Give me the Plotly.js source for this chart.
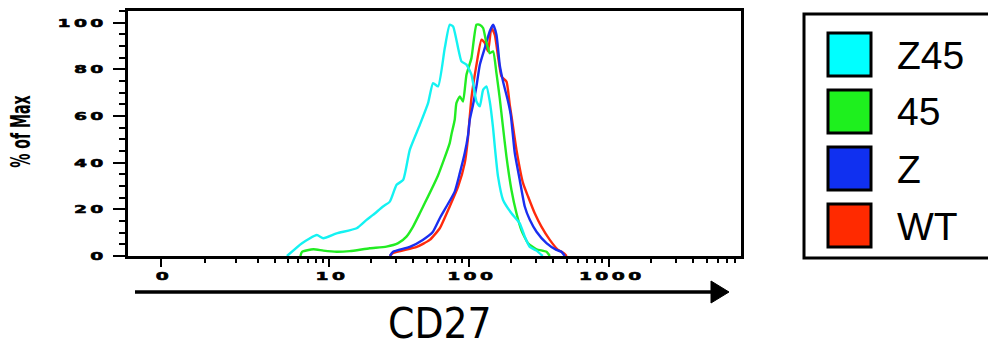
<!DOCTYPE html>
<html>
<head>
<meta charset="utf-8">
<script src="https://cdn.plot.ly/plotly-3.0.1.min.js"></script>
<style>
  html, body { margin: 0; padding: 0; background: #ffffff; }
  #chart { width: 988px; height: 347px; }
</style>
</head>
<body>
<div id="chart"></div>
<script>
// ---------------- DATA ----------------
const seriesNames  = ["Z45", "45", "Z", "WT"];
const lineColors   = ["#14f2f2", "#22ec22", "#1a2ef0", "#ff2a0c"];
const swatchColors = ["#00ffff", "#1ef01e", "#1030f0", "#ff2a00"];

// CD27 fluorescence values and % of Max, per sample
const z45_cd27 = [4.95, 6.38, 8.17, 9.10, 11.35, 15.8, 18.6, 20.7, 24.4, 27.3, 30.5, 34.0, 37.9, 44.7, 51.2, 55.6, 60.4, 67.4, 73.1, 77.3, 88.7, 96.3, 104.5, 113.5, 119.9, 126.6, 133.8, 141.3, 149.2, 153.5, 161.9, 175.8, 201.8, 231.3, 251.2, 272.9, 304.8, 338];
const z45_pct  = [0, 5.5, 9.0, 7.6, 9.7, 11.9, 15.5, 17.6, 21.2, 23.3, 30.5, 32.6, 45.5, 56.2, 65.5, 74.1, 72.7, 89.1, 99.1, 98.4, 83.4, 82.0, 77.7, 66.2, 64.1, 71.2, 72.7, 66.2, 54.8, 46.9, 34.0, 24.0, 18.3, 14.0, 8.3, 3.9, 2.3, 0];

const s45_cd27 = [6.21, 6.38, 7.72, 9.10, 11.35, 14.1, 19.6, 25.8, 31.3, 35.9, 40.0, 44.7, 47.2, 60.1, 73.1, 75.1, 79.4, 81.6, 86.3, 91.0, 96.3, 104.5, 113.5, 119.9, 126.6, 132.2, 137.3, 141.3, 149.2, 157.7, 166.4, 174.9, 185.9, 201.8, 219.2, 237.8, 265.2, 304.8, 359.0, 379.3];
const s45_pct  = [0, 1.8, 2.9, 2.3, 1.8, 2.1, 3.3, 4.0, 5.5, 8.3, 12.6, 18.3, 21.2, 34.3, 48.4, 51.9, 58.4, 65.5, 68.4, 66.2, 77.7, 84.8, 99.1, 99.1, 97.7, 92.7, 89.1, 86.9, 87.7, 78.4, 67.7, 56.2, 42.6, 28.3, 18.3, 11.0, 5.5, 2.9, 1.8, 0];

const z_cd27 = [27.3, 28.8, 37.9, 46.9, 55.3, 62.1, 69.3, 79.4, 86.3, 93.6, 98.9, 101.7, 107.3, 113.5, 119.9, 130.1, 141.3, 149.2, 157.7, 166.4, 175.8, 190.9, 199.5, 213.1, 231.3, 251.2, 272.9, 304.8, 359.0, 422.5, 458.7, 485.3];
const z_pct  = [0, 1.8, 3.9, 6.9, 10.3, 16.2, 21.2, 27.6, 35.5, 44.1, 51.9, 58.4, 64.8, 72.7, 81.9, 89.1, 96.3, 99.1, 94.8, 81.9, 74.8, 66.2, 60.5, 44.2, 32.6, 21.2, 15.5, 10.4, 5.5, 2.6, 1.8, 0];

const wt_cd27 = [27.3, 28.8, 42.5, 52.6, 62.1, 73.1, 83.9, 93.6, 98.4, 104.5, 113.5, 123.3, 130.1, 137.3, 145.2, 153.5, 161.9, 171.3, 185.9, 196.3, 202.8, 219.2, 244.2, 265.2, 296.0, 330.4, 379.3, 434.5, 472.3, 501.2];
const wt_pct  = [0, 1.3, 3.9, 6.9, 11.9, 21.2, 29.7, 39.8, 49.8, 67.7, 81.9, 92.7, 91.3, 87.7, 97.7, 94.8, 85.5, 76.9, 74.8, 64.8, 59.2, 45.5, 31.2, 25.5, 18.3, 12.6, 6.9, 2.6, 1.4, 0];

const xMajorTicks = [0, 10, 100, 1000];
const xTickLabels = ["0", "10", "100", "1000"];
const xMinorTicks = [1,2,3,4,5,6,7,8,9, 20,30,40,50,60,70,80,90, 200,300,400,500,600,700,800,900, 2000,3000,4000,5000,6000,7000,8000,9000];

// --------------- SCALE (biexponential-like display, arcsinh) ---------------
const C = 1.267;
function T(v) { return Math.asinh(v / C) / Math.LN10; }

// --------------- LAYOUT GEOMETRY (pixels) ---------------
const W = 988, H = 347;
const PL = 128, PR = 741, PT = 11, PB = 256;
const pw = PR - PL, ph = PB - PT;
function fx(px) { return (px - PL) / pw; }
function fy(py) { return (PB - py) / ph; }

const xs = [z45_cd27, s45_cd27, z_cd27, wt_cd27];
const ys = [z45_pct, s45_pct, z_pct, wt_pct];

// draw order: WT, Z, 45, Z45
const order = [3, 2, 1, 0];
const traces = order.map(i => ({
  type: "scatter",
  mode: "lines",
  name: seriesNames[i],
  x: xs[i].map(T),
  y: ys[i],
  line: { color: lineColors[i], width: 2.4, shape: "spline", smoothing: 0.5 },
  showlegend: false,
  hoverinfo: "skip"
}));

const shapes = [];
const annotations = [];

// arrow under the x axis
shapes.push({ type: "line", xref: "paper", yref: "paper",
  x0: fx(135), x1: fx(714), y0: fy(292), y1: fy(292),
  line: { color: "#000", width: 3.5 } });
shapes.push({ type: "path", xref: "paper", yref: "paper",
  path: "M " + fx(711) + "," + fy(281) + " L " + fx(729) + "," + fy(292) + " L " + fx(711) + "," + fy(303) + " Z",
  fillcolor: "#000", line: { color: "#000", width: 1 } });

// legend box
shapes.push({ type: "rect", xref: "paper", yref: "paper",
  x0: fx(804), x1: fx(1000), y0: fy(258), y1: fy(14),
  line: { color: "#000", width: 3 }, fillcolor: "rgba(0,0,0,0)" });

seriesNames.forEach((nm, i) => {
  const top = 33 + i * 57;
  shapes.push({ type: "rect", xref: "paper", yref: "paper",
    x0: fx(828), x1: fx(871), y0: fy(top + 43), y1: fy(top),
    fillcolor: swatchColors[i], line: { color: "#000", width: 3 } });
  annotations.push({ xref: "paper", yref: "paper", x: fx(895), y: fy(top + 22),
    xanchor: "left", yanchor: "middle", showarrow: false, text: nm,
    font: { family: "Liberation Sans, Arial, sans-serif", size: 39, color: "#000" } });
});

// axis titles
annotations.push({ xref: "paper", yref: "paper", x: fx(440), y: fy(323),
  xanchor: "center", yanchor: "middle", showarrow: false, text: "CD27",
  font: { family: "DejaVu Sans Condensed, Liberation Sans Narrow, sans-serif", size: 42, color: "#000" } });
annotations.push({ xref: "paper", yref: "paper", x: fx(20), y: fy(132),
  xanchor: "center", yanchor: "middle", showarrow: false, text: "% of Max", textangle: -90,
  font: { family: "DejaVu Sans Condensed, sans-serif", size: 27, weight: "bold", color: "#000" } });

const tickFont = { family: "DejaVu Sans, sans-serif", size: 11, weight: "bold", color: "#000" };

const layout = {
  width: W, height: H,
  margin: { l: PL, r: W - PR, t: PT, b: H - PB, pad: 0 },
  paper_bgcolor: "#fff", plot_bgcolor: "#fff",
  showlegend: false,
  xaxis: {
    range: [T(0) + (PL - 161) / 140, T(0) + (PR - 161) / 140],
    tickmode: "array", tickvals: xMajorTicks.map(T), ticktext: xTickLabels,
    ticks: "outside", ticklen: 8, tickwidth: 2, tickcolor: "#000",
    minor: { tickmode: "array", tickvals: xMinorTicks.map(T), ticks: "outside", ticklen: 4, tickwidth: 2, tickcolor: "#000", showgrid: false },
    showline: true, linecolor: "#000", linewidth: 3, mirror: true,
    showgrid: false, zeroline: false, tickfont: tickFont, fixedrange: true
  },
  yaxis: {
    range: [0, 105],
    tickmode: "linear", tick0: 0, dtick: 20,
    ticks: "outside", ticklen: 12, tickwidth: 2, tickcolor: "#000",
    minor: { dtick: 5, ticks: "outside", ticklen: 6, tickwidth: 2, tickcolor: "#000", showgrid: false },
    showline: true, linecolor: "#000", linewidth: 3, mirror: true,
    showgrid: false, zeroline: false, tickfont: tickFont, ticklabelstandoff: 4, fixedrange: true
  },
  shapes: shapes,
  annotations: annotations
};

function scaleAbout(t, ax, ay, sx, sy, dx) {
  const tr = t.getAttribute("transform") || "";
  t.setAttribute("transform", tr + " translate(" + (ax + (dx || 0)) + "," + ay + ") scale(" + sx + "," + sy + ") translate(" + (-ax) + "," + (-ay) + ")");
}

function styleTicks(gd) {
  const heavy = t => { t.style.letterSpacing = "2px"; t.style.stroke = "#000"; t.style.strokeWidth = "0.55px"; };
  gd.querySelectorAll(".xtick text").forEach(t => {
    heavy(t);
    const b = t.getBBox();
    scaleAbout(t, b.x + b.width / 2, b.y + b.height / 2, 1.7, 1, 3);
  });
  gd.querySelectorAll(".ytick text").forEach(t => {
    heavy(t);
    const b = t.getBBox();
    scaleAbout(t, b.x + b.width, b.y + b.height / 2, 1.7, 1, 0);
  });
  // condense the rotated y title along its length
  gd.querySelectorAll(".annotation-text").forEach(t => {
    if (t.textContent === "% of Max") {
      const b = t.getBBox();
      scaleAbout(t, b.x + b.width / 2, b.y + b.height / 2, 0.58, 1, 0);
    }
  });
}

Plotly.newPlot("chart", traces, layout, { staticPlot: true, displayModeBar: false })
  .then(gd => styleTicks(gd));
</script>
</body>
</html>
